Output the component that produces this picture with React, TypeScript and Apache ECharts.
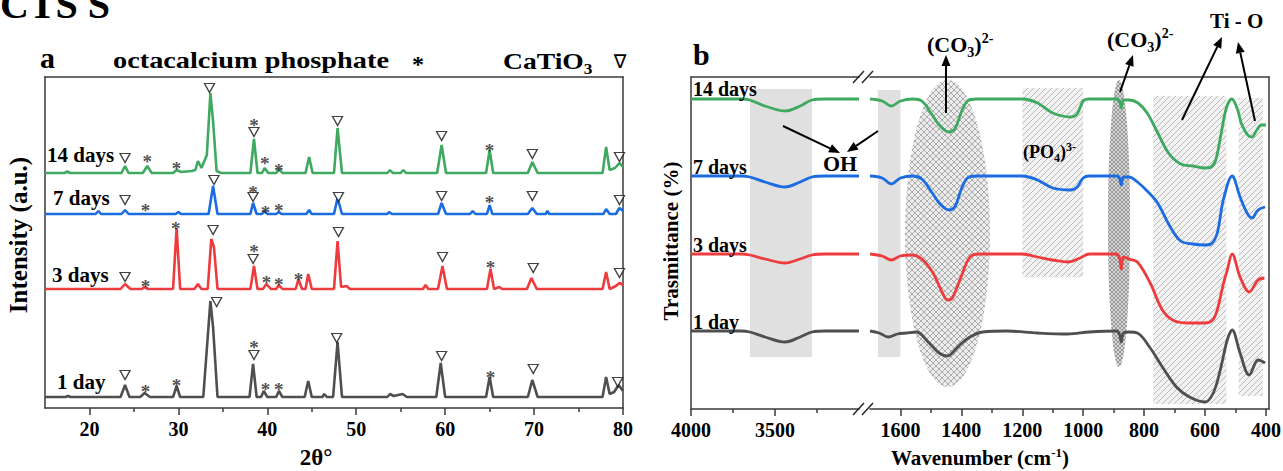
import { useEffect, useRef } from 'react';
import * as echarts from 'echarts';

const FONT = '"Liberation Serif", "Times New Roman", "DejaVu Serif", serif';
const GREEN = '#3ea95f';
const BLUE = '#1b6ce0';
const RED = '#ee3b3d';
const GREY = '#4f4f4f';
const AXIS = '#3a3a3a';

// ---------------- Panel a : XRD ----------------
const xrdLabels = ['14 days', '7 days', '3 days', '1 day'];
const xrdColors = [GREEN, BLUE, RED, GREY];
// baseline level of each stacked pattern (a.u.)
const xrdOffsets = [236, 195, 120, 12];
// [2θ, intensity above own baseline]
const xrd14 = [[15,0],[17.2,0],[17.5,1.5],[17.8,0],[23.6,0],[24.0,7],[24.4,0],[26.0,0],[26.5,7],[27.0,0],[29.4,0],[29.8,3],[30.3,1],[31.5,2],[31.9,3],[32.2,12],[32.6,5],[33.2,18],[33.6,80],[33.9,52],[34.3,2],[34.8,0],[38.1,0],[38.5,34],[38.9,0],[39.4,0],[39.7,5],[40.1,0],[41.0,0],[41.3,4],[41.7,0],[44.3,0],[44.7,16],[45.1,0],[47.5,0],[47.9,45],[48.4,0],[53.5,0],[53.8,3],[54.1,0],[55.0,0],[55.3,3],[55.6,0],[59.1,0],[59.6,28],[60.1,0],[64.6,0],[65.0,23],[65.4,0],[69.3,0],[69.8,11],[70.4,0],[77.7,0],[78.1,26],[78.5,3],[79.1,5],[79.6,10],[80,6]];
const xrd7 = [[15,0],[20.7,0],[21.0,3],[21.3,0],[23.6,0],[24.0,4],[24.4,0],[29.7,0],[30.0,2],[30.3,0],[33.4,0],[33.9,28],[34.4,0],[38.1,0],[38.4,11],[38.8,0],[39.4,0],[39.7,3],[40.0,0],[41.0,0],[41.3,2],[41.6,0],[44.4,0],[44.7,4],[45.0,0],[47.5,0],[47.9,16],[48.4,0],[53.5,0],[53.7,2],[54.0,0],[59.2,0],[59.6,11],[60.1,0],[62.8,0],[63.1,3],[63.4,0],[64.7,0],[65.0,9],[65.3,0],[69.3,0],[69.8,6],[70.3,0],[71.3,0],[71.5,3],[71.7,0],[77.8,0],[78.1,5],[78.5,0],[79.2,0],[79.6,6],[80,3]];
const xrd3 = [[15,0],[23.5,0],[24.0,5],[24.6,0],[25.9,0],[26.2,2],[26.6,0],[29.4,0],[29.8,61],[30.2,0],[31.8,0],[32.2,5],[32.6,0],[33.3,0],[33.7,50],[34.0,42],[34.4,0],[38.1,0],[38.5,23],[38.9,0],[39.5,0],[39.9,5],[40.4,0],[41.0,0],[41.3,4],[41.7,0],[43.2,0],[43.5,10],[43.9,0],[44.3,0],[44.6,15],[45.0,0],[47.5,0],[47.9,48],[48.3,2],[48.9,3],[49.3,0],[57.5,0],[57.8,4],[58.1,0],[59.2,0],[59.7,23],[60.2,0],[64.7,0],[65.1,20],[65.5,0],[66.1,2],[66.4,0],[69.2,0],[69.7,11],[70.3,0],[77.7,0],[78.1,17],[78.5,0],[79.2,3],[79.6,6],[80,4]];
const xrd1 = [[15,0],[17.3,0],[17.6,1],[17.9,0],[23.5,0],[24.0,12],[24.5,0],[25.7,0],[26.2,4],[26.8,0],[29.4,0],[29.8,11],[30.2,0],[32.8,0],[33.3,60],[33.6,96],[33.9,70],[34.4,0],[38.0,0],[38.4,33],[38.8,0],[39.3,0],[39.6,6],[40.0,0],[41.0,0],[41.3,6],[41.7,0],[44.2,0],[44.6,16],[45.0,0],[46.2,0],[46.4,3],[46.7,0],[47.4,0],[47.9,55],[48.4,0],[53.5,0],[53.8,3],[54.2,1],[55.2,3],[55.7,0],[59.0,0],[59.5,34],[60.0,0],[64.6,0],[65.0,20],[65.4,0],[69.3,0],[69.8,17],[70.4,0],[77.7,0],[78.1,20],[78.5,3],[79.0,5],[79.5,12],[80,6]];
const xrdData = [xrd14, xrd7, xrd3, xrd1];

// phase markers [2θ, level]
const caTiO3Marks = [[24,251],[33.5,321],[38.5,277],[47.9,288],[59.6,273],[69.8,255],[79.6,252],
  [24,209],[34,229],[38.4,212],[48,212],[59.6,213],[69.8,213],[79.6,209],
  [24,132],[33.9,179],[38.4,150],[48,177],[59.7,152],[69.9,141],[79.6,136],
  [24,34],[34.3,107],[38.5,54],[47.8,71],[59.6,53],[69.9,40],[79.4,27]];
const ocpMarks = [[26.5,252],[29.8,245],[38.5,288],[39.7,250],[41.3,243],[65,263],
  [26.3,203],[38.4,221],[39.8,201],[41.3,203],[65,211],
  [26.3,127],[29.7,185],[38.5,162],[39.9,131],[41.3,129],[43.5,134],[65.1,146],
  [26.3,22],[29.8,28],[38.5,66],[39.8,24],[41.3,24],[65.1,36]];

const xrdLabelTicks = [20, 30, 40, 50, 60, 70, 80];
const xrdMinorTicks = [25, 35, 45, 55, 65, 75];

// ---------------- Panel b : FTIR ----------------
const ftirLabels = ['14 days', '7 days', '3 days', '1 day'];
const ftirColors = [GREEN, BLUE, RED, GREY];
// high wavenumber segment (4000-3000 cm-1) [wavenumber, transmittance a.u.]
const ftirHigh14 = [[4000,310],[3700,310],[3650,309],[3560,303],[3440,298],[3350,303],[3280,309],[3200,310],[3000,310]];
const ftirHigh7 = [[4000,233],[3700,233],[3650,232],[3560,227],[3440,222],[3350,227],[3280,232],[3200,233],[3000,233]];
const ftirHigh3 = [[4000,155],[3700,155],[3650,154],[3560,150],[3440,146],[3350,150],[3280,154],[3200,155],[3000,155]];
const ftirHigh1 = [[4000,78],[3700,78],[3650,77],[3560,72],[3440,67],[3350,72],[3280,77],[3200,78],[3000,78]];
// low wavenumber segment (1700-400 cm-1)
const ftirLow14 = [[1700,310],[1660,308],[1630,303],[1600,308],[1560,310],[1530,308],[1500,296],[1470,283],[1440,277],[1420,281],[1400,297],[1380,308],[1350,310],[1200,310],[1150,306],[1100,296],[1040,292],[1020,295],[1000,308],[980,310],[890,310],[880,307],[875,301],[868,309],[850,309],[820,306],[790,296],[760,279],[720,256],[680,245],[640,243],[600,241],[580,242],[565,249],[548,274],[530,301],[512,310],[495,301],[480,285],[460,274],[446,272],[430,279],[415,284],[400,284]];
const ftirLow7 = [[1700,233],[1660,231],[1630,225],[1600,231],[1560,233],[1530,230],[1500,218],[1470,205],[1440,199],[1420,203],[1400,220],[1380,231],[1350,233],[1200,233],[1150,229],[1100,221],[1040,219],[1020,222],[1000,231],[980,233],[890,233],[880,230],[875,224],[868,232],[850,232],[822,227],[790,218],[756,206],[714,182],[680,168],[640,165],[600,164],[580,165],[560,176],[540,209],[511,233],[485,212],[462,196],[446,191],[426,199],[403,202]];
const ftirLow3 = [[1700,155],[1660,153],[1630,149],[1600,153],[1560,154],[1530,150],[1493,136],[1465,118],[1445,109],[1430,111],[1405,129],[1372,152],[1340,155],[1200,155],[1150,152],[1100,149],[1050,147],[1010,151],[980,155],[890,155],[880,150],[875,140],[868,152],[850,150],[822,147],[780,126],[740,99],[700,88],[650,86],[600,86],[575,89],[560,99],[540,125],[527,139],[511,155],[485,132],[455,117],[426,129],[405,131]];
const ftirLow1 = [[1700,78],[1670,76],[1640,72],[1610,75],[1580,76],[1547,77],[1506,66],[1473,56],[1447,53],[1437,54],[1405,64],[1372,72],[1330,77],[1250,78],[1150,76],[1050,75],[980,77],[890,78],[880,74],[875,67],[868,76],[850,77],[822,76],[780,61],[740,42],[694,22],[651,12],[600,7],[573,16],[550,39],[527,69],[511,79],[485,56],[455,34],[426,49],[415,48],[403,46]];
const ftirHigh = [ftirHigh14, ftirHigh7, ftirHigh3, ftirHigh1];
const ftirLow = [ftirLow14, ftirLow7, ftirLow3, ftirLow1];

// band regions [fromWavenumber, toWavenumber, top, bottom]
const ohBandHigh = [[3649, 3280, 320, 52]];
const ohBandLow = [[1674, 1600, 319, 52]];
const hatchBands = [[1200, 1000, 321, 132], [770, 530, 313, 5], [490, 410, 311, 13]];
const carbonateBig = [1585, 1306, 329, 22];
const carbonateSmall = [919, 846, 329, 42];

const ftirHighLabels = [4000, 3500];
const ftirHighMinor = [3750, 3250];
const ftirLowLabels = [1600, 1400, 1200, 1000, 800, 600, 400];
const ftirLowMinor = [1500, 1300, 1100, 900, 700, 500];

// ---------------- helpers ----------------
function makePattern(bg: string, fg: string, size: number, cross: boolean, lw: number) {
  const c = document.createElement('canvas');
  c.width = size; c.height = size;
  const ctx = c.getContext('2d')!;
  ctx.fillStyle = bg; ctx.fillRect(0, 0, size, size);
  ctx.strokeStyle = fg; ctx.lineWidth = lw;
  ctx.beginPath();
  ctx.moveTo(-1, size + 1); ctx.lineTo(size + 1, -1);
  ctx.moveTo(-1, 1); ctx.lineTo(1, -1);
  ctx.moveTo(size - 1, size + 1); ctx.lineTo(size + 1, size - 1);
  if (cross) {
    ctx.moveTo(-1, -1); ctx.lineTo(size + 1, size + 1);
    ctx.moveTo(size - 1, -1); ctx.lineTo(size + 1, 1);
    ctx.moveTo(-1, size - 1); ctx.lineTo(1, size + 1);
  }
  ctx.stroke();
  return { image: c.toDataURL(), repeat: 'repeat', imageWidth: size, imageHeight: size };
}

const measureCtx = typeof document !== 'undefined' ? document.createElement('canvas').getContext('2d') : null;
function textWidth(t: string, size: number, bold = true) {
  if (!measureCtx) return t.length * size * 0.5;
  measureCtx.font = `${bold ? 'bold ' : ''}${size}px ${FONT}`;
  return measureCtx.measureText(t).width;
}

function txt(x: number, y: number, text: string, size: number, extra: any = {}) {
  const { align = 'left', rotation = 0, scaleX = 1, family = FONT, bold = true, fill = '#000' } = extra;
  return {
    type: 'text', x, y, rotation, scaleX, z: 20,
    style: {
      text, fill, font: `${bold ? 'bold ' : ''}${size}px ${family}`,
      align, verticalAlign: 'middle', textAlign: align, textVerticalAlign: 'middle',
    },
  };
}

// baseline-positioned composite text; parts [text, size, baselineShift]
function formula(x: number, baseline: number, parts: any[], anchor = 'left', scaleX = 1) {
  const widths = parts.map((p) => textWidth(p[0], p[1]) * scaleX);
  const total = widths.reduce((a, b) => a + b, 0);
  let cx = anchor === 'center' ? x - total / 2 : x;
  return parts.map((p, i) => {
    const el = txt(cx, baseline + p[2] - 0.34 * p[1], p[0], p[1], { scaleX });
    cx += widths[i];
    return el;
  });
}

function arrow(x1: number, y1: number, x2: number, y2: number) {
  const ang = Math.atan2(y2 - y1, x2 - x1);
  const L = 11, W = 4.5;
  const bx = x2 - L * Math.cos(ang), by = y2 - L * Math.sin(ang);
  const px = -Math.sin(ang) * W, py = Math.cos(ang) * W;
  return [
    { type: 'line', z: 20, shape: { x1, y1, x2: bx, y2: by }, style: { stroke: '#000', lineWidth: 2 } },
    { type: 'polygon', z: 20, shape: { points: [[x2, y2], [bx + px, by + py], [bx - px, by - py]] }, style: { fill: '#000' } },
  ];
}

const lineStyleAxis = { color: AXIS, width: 1.5 };
const labelFont = { fontFamily: FONT, fontWeight: 'bold', fontSize: 20, color: '#000' };

function mainX(gridIndex: number, min: number, max: number, labels: number[], inverse: boolean) {
  return {
    type: 'value', gridIndex, min, max, inverse, position: 'bottom',
    axisLine: { show: true, onZero: false, lineStyle: lineStyleAxis },
    axisTick: { show: true, inside: false, length: 7, customValues: labels, lineStyle: lineStyleAxis },
    axisLabel: { show: true, customValues: labels, margin: 11, formatter: (v: number) => String(v), ...labelFont },
    splitLine: { show: false },
  };
}
function minorX(gridIndex: number, min: number, max: number, ticks: number[], inverse: boolean) {
  return {
    type: 'value', gridIndex, min, max, inverse, position: 'bottom',
    axisLine: { show: false },
    axisTick: { show: true, inside: false, length: 4, customValues: ticks, lineStyle: lineStyleAxis },
    axisLabel: { show: false }, splitLine: { show: false },
  };
}
function frameX(gridIndex: number, min: number, max: number, inverse: boolean) {
  return {
    type: 'value', gridIndex, min, max, inverse, position: 'top',
    axisLine: { show: true, onZero: false, lineStyle: lineStyleAxis },
    axisTick: { show: false }, axisLabel: { show: false }, splitLine: { show: false },
  };
}
function frameY(gridIndex: number, min: number, max: number, position: string) {
  return {
    type: 'value', gridIndex, min, max, position,
    axisLine: { show: true, onZero: false, lineStyle: lineStyleAxis },
    axisTick: { show: false }, axisLabel: { show: false }, splitLine: { show: false },
  };
}

function buildOption() {
  const hatch = makePattern('#f2f2f2', '#b9b9b9', 6, false, 1);
  const series: any[] = [];
  xrdData.forEach((d, i) => {
    series.push({
      type: 'line', name: xrdLabels[i], xAxisIndex: 0, yAxisIndex: 0, showSymbol: false, symbol: 'none',
      data: d.map((p) => [p[0], p[1] + xrdOffsets[i]]),
      lineStyle: { color: xrdColors[i], width: 2.6 }, z: 2,
    });
  });
  series.push({
    type: 'scatter', name: 'CaTiO3', xAxisIndex: 0, yAxisIndex: 0, data: caTiO3Marks,
    symbol: 'triangle', symbolRotate: 180, symbolSize: [10, 9],
    itemStyle: { color: '#ffffff', borderColor: '#111', borderWidth: 1.3 }, z: 5,
  });
  series.push({
    type: 'scatter', name: 'OCP', xAxisIndex: 0, yAxisIndex: 0, data: ocpMarks,
    symbol: 'circle', symbolSize: 1, itemStyle: { color: 'rgba(0,0,0,0)' }, z: 5,
    label: { show: true, formatter: '*', position: 'inside', offset: [0, 4], fontSize: 19, fontWeight: 'bold', fontFamily: FONT, color: '#222' },
  });
  const rectArea = (b: number[]) => [{ xAxis: b[0], yAxis: b[2] }, { xAxis: b[1], yAxis: b[3] }];
  series.push({
    type: 'line', name: 'bandsHigh', xAxisIndex: 3, yAxisIndex: 2, data: [], z: 1, silent: true,
    markArea: { silent: true, itemStyle: { color: '#e0e0e0' }, data: ohBandHigh.map(rectArea) },
  });
  series.push({
    type: 'line', name: 'bandsLow', xAxisIndex: 6, yAxisIndex: 3, data: [], z: 1, silent: true,
    markArea: {
      silent: true,
      data: [
        ...ohBandLow.map((b) => { const r: any = rectArea(b); r[0].itemStyle = { color: '#e0e0e0' }; return r; }),
        ...hatchBands.map((b) => { const r: any = rectArea(b); r[0].itemStyle = { color: hatch }; return r; }),
      ],
    },
  });
  ftirHigh.forEach((d, i) => {
    series.push({
      type: 'line', name: ftirLabels[i] + ' high', xAxisIndex: 3, yAxisIndex: 2, showSymbol: false, symbol: 'none',
      smooth: 0.35, data: d, lineStyle: { color: ftirColors[i], width: 2.8 }, z: 3,
    });
  });
  ftirLow.forEach((d, i) => {
    series.push({
      type: 'line', name: ftirLabels[i] + ' low', xAxisIndex: 6, yAxisIndex: 3, showSymbol: false, symbol: 'none',
      smooth: 0.35, data: d, lineStyle: { color: ftirColors[i], width: 2.8 }, z: 3,
    });
  });

  const gridBase = { containLabel: false, outerBoundsMode: 'none' };
  return {
    animation: false,
    backgroundColor: '#ffffff',
    grid: [
      { ...gridBase, left: 45, top: 77, width: 578, height: 331 },
      { ...gridBase, left: 691, top: 77, width: 168, height: 332 },
      { ...gridBase, left: 870, top: 77, width: 399, height: 332 },
    ],
    xAxis: [
      mainX(0, 15, 80, xrdLabelTicks, false),
      minorX(0, 15, 80, xrdMinorTicks, false),
      frameX(0, 15, 80, false),
      mainX(1, 3000, 4000, ftirHighLabels, true),
      minorX(1, 3000, 4000, ftirHighMinor, true),
      frameX(1, 3000, 4000, true),
      mainX(2, 390, 1700, ftirLowLabels, true),
      minorX(2, 390, 1700, ftirLowMinor, true),
      frameX(2, 390, 1700, true),
    ],
    yAxis: [
      frameY(0, 1, 332, 'left'),
      frameY(0, 1, 332, 'right'),
      frameY(1, 0, 332, 'left'),
      frameY(2, 0, 332, 'right'),
    ],
    series,
  };
}

function annotations() {
  const els: any[] = [];
  // figure title, clipped at the top edge as in the source image
  els.push(txt(0, 4, 'CTS S', 40));
  // panel a
  els.push(...formula(40, 68, [['a', 30, 0]]));
  els.push(...formula(113, 68, [['octacalcium phosphate', 24, 0]], 'left', 1.18));
  els.push(txt(412, 64, '*', 24));
  els.push(...formula(503, 69, [['CaTiO', 24, 0], ['3', 15, 5]], 'left', 1.15));
  els.push(txt(620, 61, '∇', 19, { align: 'center', family: '"DejaVu Sans", sans-serif', bold: false }));
  els.push(txt(18, 235, 'Intensity (a.u.)', 25, { align: 'center', rotation: Math.PI / 2 }));
  els.push(txt(316, 457, '2θ°', 23, { align: 'center' }));
  els.push(txt(47, 155, '14 days', 21));
  els.push(txt(53, 198, '7 days', 21));
  els.push(txt(52, 275, '3 days', 21));
  els.push(txt(57, 382, '1 day', 21));
  // panel b
  els.push(...formula(693, 65, [['b', 30, 0]]));
  els.push(txt(671, 241, 'Trasmittance (%)', 21, { align: 'center', rotation: Math.PI / 2 }));
  els.push(...formula(980, 465, [['Wavenumber (cm', 21, 0], ['-1', 13, -8], [')', 21, 0]], 'center'));
  els.push(txt(693, 89, '14 days', 20));
  els.push(txt(693, 167, '7 days', 20));
  els.push(txt(693, 245, '3 days', 20));
  els.push(txt(693, 322, '1 day', 20));
  els.push(...formula(823, 171, [['OH', 22, 0]]));
  els.push(...formula(927, 52, [['(CO', 22, 0], ['3', 14, 5], [')', 22, 0], ['2-', 14, -9]]));
  els.push(...formula(1107, 47, [['(CO', 22, 0], ['3', 14, 5], [')', 22, 0], ['2-', 14, -9]]));
  els.push(...formula(1023, 158, [['(PO', 18, 0], ['4', 12, 4], [')', 18, 0], ['3-', 12, -7]]));
  els.push(...formula(1210, 28, [['Ti - O', 21, 0]]));
  els.push(...arrow(783, 126, 840, 153));
  els.push(...arrow(878, 131, 847, 152));
  els.push(...arrow(946, 113, 946, 55));
  els.push(...arrow(1120, 92, 1133, 55));
  els.push(...arrow(1182, 120, 1222, 37));
  els.push(...arrow(1255, 121, 1238, 42));
  // axis break marks
  const brk = (yb: number) => [
    { type: 'line', z: 20, shape: { x1: 853, y1: yb + 6, x2: 864, y2: yb - 6 }, style: { stroke: '#222', lineWidth: 1.4 } },
    { type: 'line', z: 20, shape: { x1: 862, y1: yb + 6, x2: 873, y2: yb - 6 }, style: { stroke: '#222', lineWidth: 1.4 } },
  ];
  els.push(...brk(77), ...brk(409));
  return els;
}

export default function App() {
  const ref = useRef<HTMLDivElement>(null);
  useEffect(() => {
    const chart = echarts.init(ref.current!, null, { renderer: 'svg' });
    chart.setOption(buildOption() as any);
    const lowSeriesIndex = 12;
    const px = (wn: number, v: number) => chart.convertToPixel({ seriesIndex: lowSeriesIndex } as any, [wn, v]) as any as number[];
    const cross = makePattern('#ececec', '#9d9d9d', 6, true, 0.8);
    const crossDense = makePattern('#d6d6d6', '#8a8a8a', 4, true, 0.8);
    const ell = (b: number[], fill: any) => {
      const a = px(b[0], b[2]);
      const c = px(b[1], b[3]);
      return {
        type: 'ellipse', z: 1,
        shape: { cx: (a[0] + c[0]) / 2, cy: (a[1] + c[1]) / 2, rx: Math.abs(c[0] - a[0]) / 2, ry: Math.abs(c[1] - a[1]) / 2 },
        style: { fill },
      };
    };
    chart.setOption({
      graphic: { elements: [ell(carbonateBig, cross), ell(carbonateSmall, crossDense), ...annotations()] },
    } as any);
    return () => chart.dispose();
  }, []);
  return (
    <div
      ref={ref}
      style={{ position: 'fixed', left: 0, top: 0, width: 1283, height: 471, background: '#fff' }}
    />
  );
}
